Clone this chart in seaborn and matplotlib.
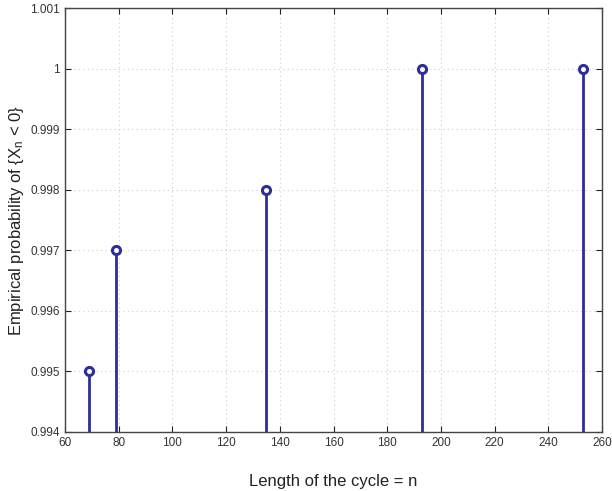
import numpy as np
import matplotlib
matplotlib.use("Agg")
import matplotlib.pyplot as plt
import seaborn as sns
from matplotlib.ticker import FuncFormatter

# data
cycle_len = [69, 79, 135, 193, 253]
prob_neg = [0.995, 0.997, 0.998, 1.0, 1.0]

xticks = list(range(60, 261, 20))
yticks = [0.994, 0.995, 0.996, 0.997, 0.998, 0.999, 1.0, 1.001]

sns.set_style("ticks")
plt.rcParams["font.family"] = ["Liberation Sans", "DejaVu Sans"]
plt.rcParams["mathtext.fontset"] = "custom"
plt.rcParams["mathtext.rm"] = "Liberation Sans"
plt.rcParams["mathtext.it"] = "Liberation Sans"

col = "#2e2e9a"

fig = plt.figure(figsize=(6.12, 4.91), dpi=100)
ax = fig.add_axes([0.1062, 0.1202, 0.8775, 0.8635])

ax.vlines(cycle_len, 0.994, prob_neg, color=col, linewidth=2, zorder=3)
sns.scatterplot(x=cycle_len, y=prob_neg, ax=ax, s=34, marker="o",
                facecolor="white", edgecolor=col, linewidth=2.2, zorder=4)

ax.set_xlim(60, 260)
ax.set_ylim(0.994, 1.001)
ax.set_xticks(xticks)
ax.set_yticks(yticks)
ax.yaxis.set_major_formatter(FuncFormatter(lambda v, p: "%g" % round(v, 6)))
ax.grid(True, linestyle=(0, (1, 3)), color="#cccccc", linewidth=0.8)

ax.tick_params(direction="in", length=4, width=0.8, labelsize=8.5,
               top=True, right=True, colors="#222222", labelcolor="#333333")
for s in ax.spines.values():
    s.set_visible(True)
    s.set_color("#444444")
    s.set_linewidth(1)

ax.set_xlabel("Length of the cycle = n", fontsize=12, labelpad=18, color="#222222")
ax.set_ylabel(r"Empirical probability of {X$_\mathrm{n}$ < 0}", fontsize=12,
              labelpad=3, color="#222222")

fig.savefig("out.png", dpi=100)
